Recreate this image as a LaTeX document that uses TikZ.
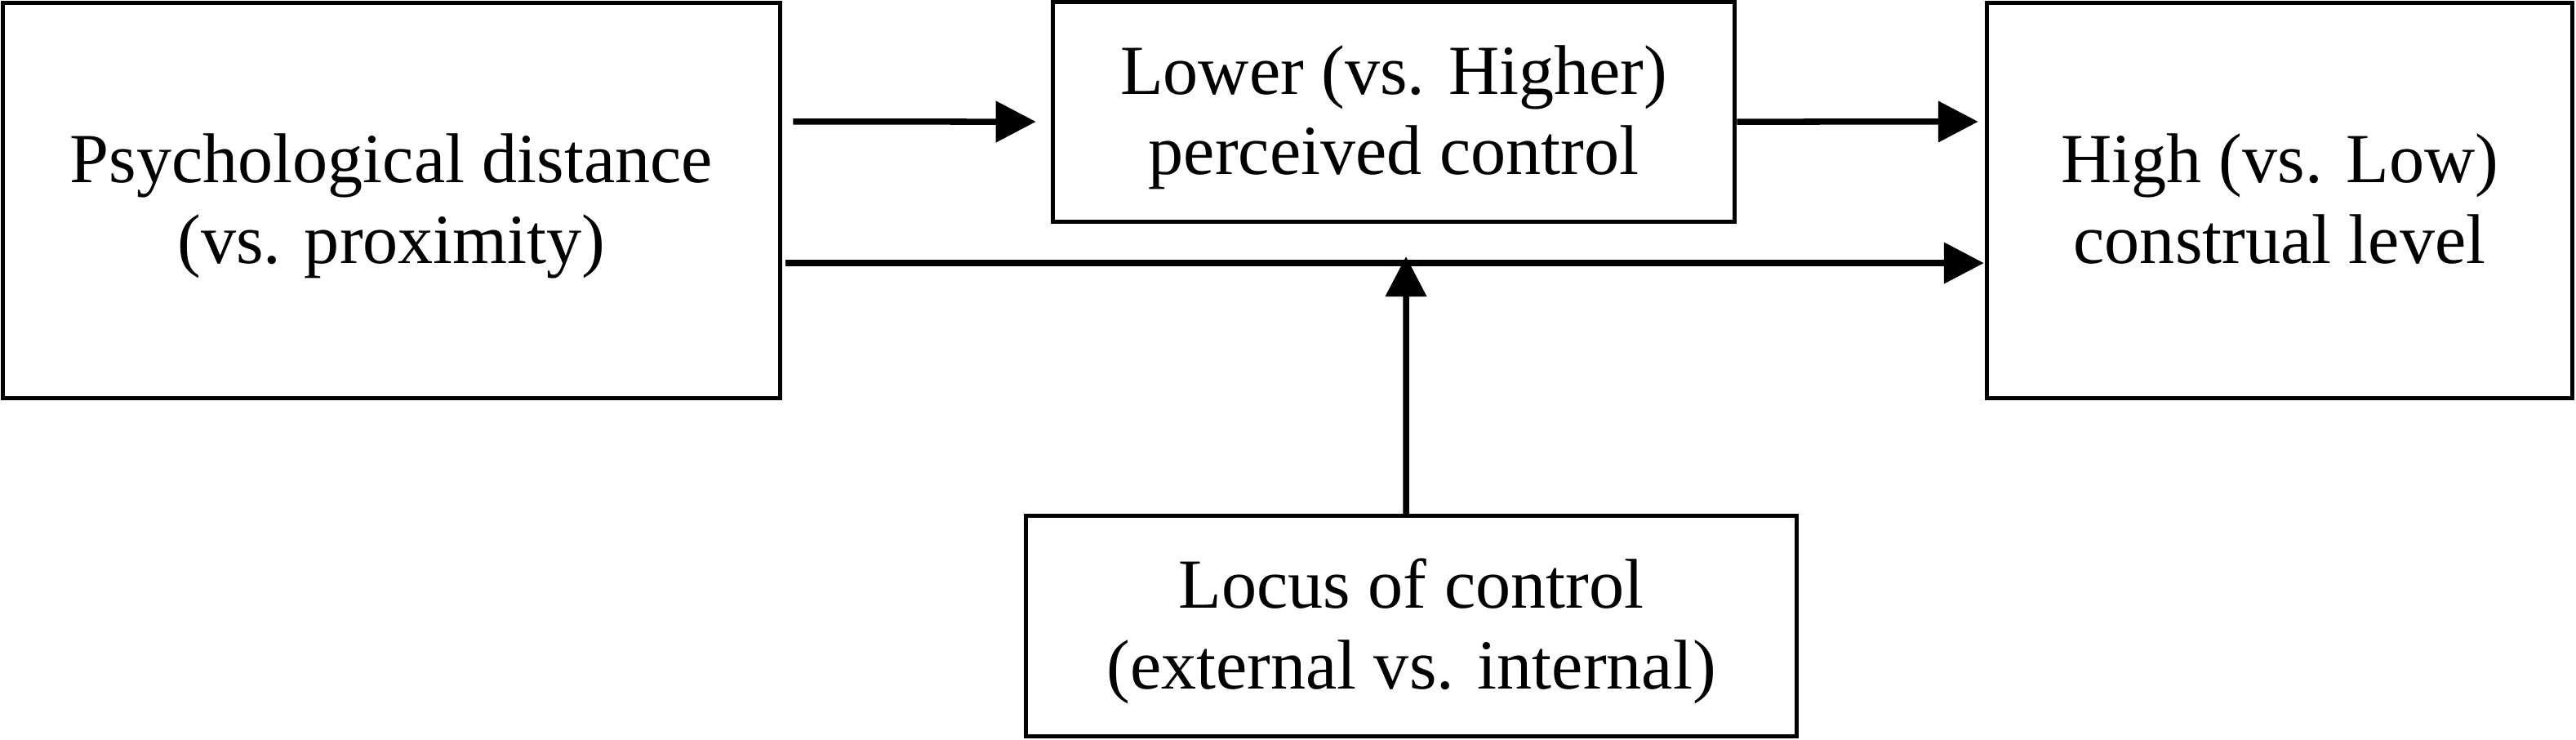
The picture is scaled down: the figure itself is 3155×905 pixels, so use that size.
\documentclass[tikz,border=0pt]{standalone}
\usepackage{fontspec}
\setmainfont{Liberation Serif}
\usetikzlibrary{arrows.meta}
\newcommand{\topstrut}{\rule{0pt}{0.8cm}}
\newcommand{\botstrut}{\rule[-0.25cm]{0pt}{0.25cm}}
\begin{document}
\begin{tikzpicture}[x=0.01cm,y=-0.01cm,
  boxnode/.style={draw=black,line width=0.05cm,outer sep=0pt,inner sep=0pt,align=center,
    font=\fontsize{24.5}{27.9}\selectfont},
  arr/.style={line width=0.075cm,-{Triangle[length=0.49cm,width=0.49cm]}}]
\useasboundingbox[fill=white] (0,0) rectangle (3155,905);
\node[boxnode,minimum width=9.51cm,minimum height=4.83cm] (A) at (479.5,245.5) {\topstrut Psychological distance\\(vs. proximity)\botstrut};
\node[boxnode,minimum width=8.34cm,minimum height=2.68cm] (B) at (1707,137) {\topstrut Lower (vs. Higher)\\perceived control\botstrut};
\node[boxnode,minimum width=7.16cm,minimum height=4.83cm] (C) at (2792,245.5) {\topstrut High (vs. Low)\\construal level\botstrut};
\node[boxnode,minimum width=9.43cm,minimum height=2.69cm] (D) at (1728.5,766.5) {\topstrut Locus of control\\(external vs. internal)\botstrut};
\coordinate (vtip) at (1722,314);
\draw[arr] ([xshift=0.16cm,yshift=0.965cm]A.east) -- ([xshift=-0.21cm,yshift=-0.12cm]B.west);
\draw[arr] ([xshift=0.03cm,yshift=-0.12cm]B.east) -- ([xshift=-0.11cm,yshift=0.965cm]C.west);
\draw[arr] ([xshift=0.07cm,yshift=-0.765cm]A.east) -- ([xshift=-0.04cm,yshift=-0.765cm]C.west);
\draw[arr] ([xshift=-0.065cm]D.north) -- (vtip);
\end{tikzpicture}
\end{document}
